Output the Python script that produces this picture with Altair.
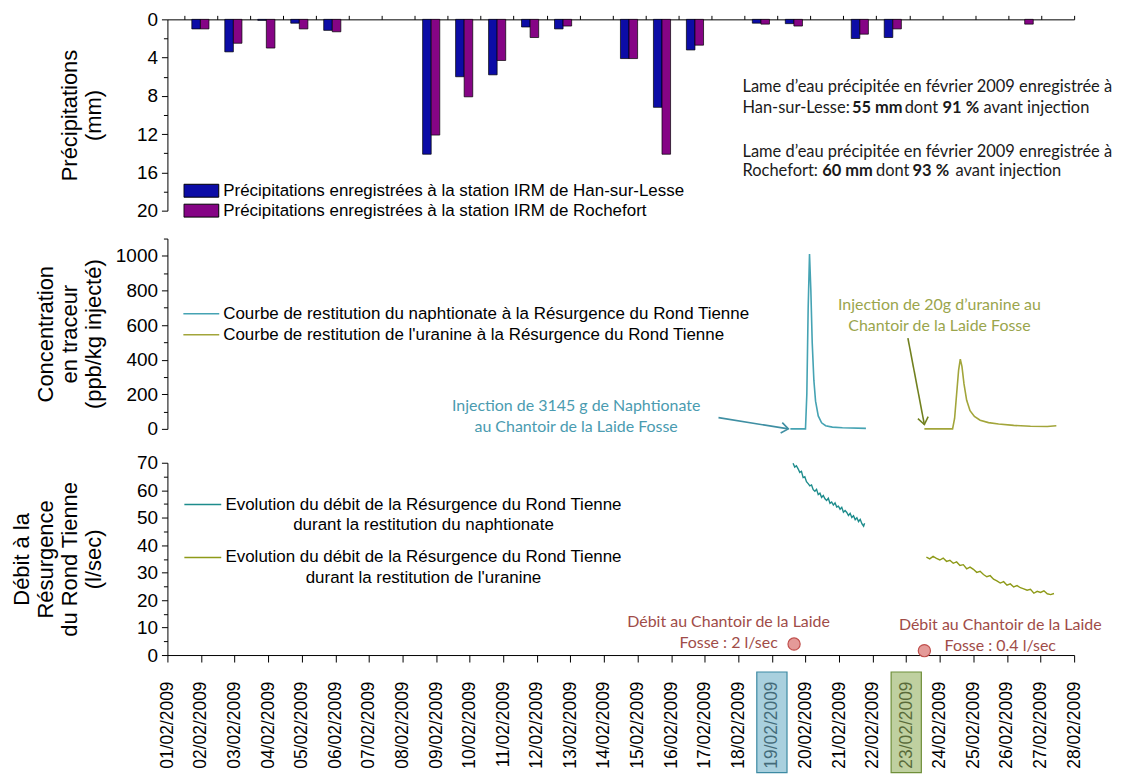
import altair as alt
import pandas as pd

# ---------------- data ----------------
days = list(range(1, 29))
tick_labels = ["01/02/2009", "02/02/2009", "03/02/2009", "04/02/2009", "05/02/2009",
               "06/02/2009", "07/02/2009", "08/02/2009", "09/02/2009", "10/02/2009",
               "11/02/2009", "12/02/2009", "13/02/2009", "14/02/2009", "15/02/2009",
               "16/02/2009", "17/02/2009", "18/02/2009", "19/02/2009", "20/02/2009",
               "21/02/2009", "22/02/2009", "23/02/2009", "24/02/2009", "25/02/2009",
               "26/02/2009", "27/02/2009", "28/02/2009"]

precip_han = [0, 1.0, 3.4, 0.1, 0.4, 1.15, 0, 0, 14.1, 6.0, 5.8, 0.8, 1.0, 0,
              4.1, 9.2, 3.2, 0, 0.4, 0.45, 0, 2.0, 1.9, 0, 0, 0, 0, 0]
precip_roch = [0, 1.0, 2.5, 3.0, 1.0, 1.3, 0, 0, 12.1, 8.1, 4.3, 1.9, 0.7, 0,
               4.1, 14.1, 2.7, 0, 0.5, 0.7, 0, 1.55, 1.0, 0, 0, 0, 0.5, 0]

naph_conc_day = [19.55, 20.00, 20.04, 20.08, 20.12, 20.16, 20.20, 20.25, 20.30, 20.38,
                 20.48, 20.60, 20.80, 21.10, 21.80]
naph_conc_val = [0, 0, 200, 700, 1010, 800, 500, 280, 160, 75, 35, 18, 10, 6, 3]

ura_conc_day = [23.54, 24.38, 24.44, 24.50, 24.56, 24.61, 24.66, 24.72, 24.80, 24.90,
                25.03, 25.20, 25.45, 25.75, 26.20, 26.70, 27.20, 27.47]
ura_conc_val = [0, 0, 60, 200, 340, 403, 360, 260, 165, 105, 72, 50, 36, 28, 20, 15, 14, 18]

naph_q_day = [19.63, 19.68, 19.73, 19.78, 19.83, 19.88, 19.93, 19.98, 20.03, 20.08, 20.13,
              20.18, 20.23, 20.28, 20.33, 20.38, 20.43, 20.48, 20.53, 20.58, 20.63, 20.68,
              20.73, 20.78, 20.83, 20.88, 20.93, 20.98, 21.03, 21.08, 21.13, 21.18, 21.23,
              21.28, 21.33, 21.38, 21.43, 21.48, 21.53, 21.58, 21.63, 21.68, 21.73, 21.76]
naph_q_val = [69.8, 68.4, 68.9, 67.8, 66.5, 66.9, 64.6, 64.9, 63.1, 62.4, 61.6,
              61.9, 60.2, 59.6, 60.3, 58.4, 58.9, 57.4, 58.1, 56.9, 56.3, 57.1,
              55.2, 55.7, 54.6, 55.4, 53.9, 54.2, 53.1, 53.8, 52.0, 52.6, 51.9,
              50.8, 51.6, 50.1, 50.7, 49.3, 50.0, 48.6, 49.4, 47.8, 46.9, 48.0]

ura_q_day = [23.60, 23.70, 23.80, 23.90, 24.00, 24.10, 24.20, 24.30, 24.40, 24.50,
             24.60, 24.70, 24.80, 24.90, 25.00, 25.10, 25.20, 25.30, 25.40, 25.50,
             25.60, 25.70, 25.80, 25.90, 26.00, 26.10, 26.20, 26.30, 26.40, 26.50,
             26.60, 26.70, 26.80, 26.90, 27.00, 27.10, 27.20, 27.30, 27.40]
ura_q_val = [35.6, 35.0, 35.9, 35.2, 34.6, 35.3, 34.1, 34.5, 33.4, 33.9,
             32.6, 32.9, 31.4, 32.0, 31.2, 30.1, 30.5, 29.3, 28.5, 28.9,
             27.6, 27.0, 26.2, 26.7, 25.4, 25.9, 24.8, 25.3, 24.5, 24.1,
             23.6, 23.9, 22.5, 23.2, 22.8, 23.4, 22.3, 22.0, 22.4]

swallow_day = [19.66, 23.54]
swallow_q = [4.0, 1.6]
injection_days = [19, 23]

han_label = "Précipitations enregistrées à la station IRM de Han-sur-Lesse"
roch_label = "Précipitations enregistrées à la station IRM de Rochefort"
naph_c_label = "Courbe de restitution du naphtionate à la Résurgence du Rond Tienne"
ura_c_label = "Courbe de restitution de l'uranine à la Résurgence du Rond Tienne"
naph_q_label = "Evolution du débit de la Résurgence du Rond Tienne|durant la restitution du naphtionate"
ura_q_label = "Evolution du débit de la Résurgence du Rond Tienne|durant la restitution de l'uranine"

# top-right notes (text, day, mm, weight)
note_text = ["Lame d’eau précipitée en février 2009 enregistrée à",
             "Han-sur-Lesse:", "55 mm", "dont", "91 %", "avant injection",
             "Lame d’eau précipitée en février 2009 enregistrée à",
             "Rochefort:", "60 mm", "dont", "93 %", "avant injection"]
note_day = [18.44, 18.44, 21.76, 23.36, 24.51, 25.75,
            18.44, 18.44, 20.86, 22.49, 23.60, 24.90]
note_mm = [7.1, 9.3, 9.3, 9.3, 9.3, 9.3, 13.82, 15.83, 15.83, 15.83, 15.83, 15.83]
note_bold = [False, False, True, False, True, False, False, False, True, False, True, False]

# ---------------- style ----------------
FONT = "Liberation Sans"
NFONT = "Lato"
BLUE, PURPLE = "#0c0ca6", "#850485"
TEAL_C, OLIVE_C = "#45a3b3", "#a2a53a"
TEAL_Q, OLIVE_Q = "#1d8c8c", "#8e9a18"
TEAL_T, OLIVE_T, RED_T = "#4a9bb0", "#9aa54c", "#a04c48"
W = 910
H1, H2, H3 = 192, 191, 193
LH = 24


def yaxis(values, title, height):
    n = len(title)
    return alt.Axis(values=values, title=title, titleFont=FONT, titleFontSize=22,
                    titleFontWeight="normal", titleLineHeight=LH,
                    titleX=-62 - (n - 1) * LH, titleY=height / 2, titleAngle=270,
                    titleAlign="center", titleBaseline="bottom", labelFont=FONT,
                    labelFontSize=19, labelPadding=4, tickSize=6, tickColor="black",
                    domainColor="black", labelColor="black", titleColor="black",
                    grid=False, format="d")


def minor_axis(values):
    return alt.Axis(orient="left", values=values, labels=False, tickSize=4, domain=False,
                    tickColor="black", title=None, grid=False)


# ================= panel 1 : precipitation =================
prec_df = pd.DataFrame({"day": days + days, "mm": precip_han + precip_roch,
                        "station": [han_label] * len(days) + [roch_label] * len(days)})
xs1 = alt.Scale(domain=[1, 28.5], nice=False, zero=False)
xax1 = alt.Axis(orient="top", values=[d + 0.5 for d in days], labels=False, tickSize=4,
                title=None, grid=False, domainColor="black", tickColor="black")
ys1 = alt.Scale(domain=[0, 20], reverse=True, nice=False)
yax1 = yaxis([0, 4, 8, 12, 16, 20], ["Précipitations", "(mm)"], H1)

bars = alt.Chart(prec_df).transform_filter("datum.mm > 0").transform_calculate(
    lo=f"datum.day - (datum.station == '{han_label}' ? 0.26 : 0)",
    hi=f"datum.day + (datum.station == '{han_label}' ? 0 : 0.26)",
).mark_bar(stroke="black", strokeWidth=0.7).encode(
    x=alt.X("lo:Q", scale=xs1, axis=xax1),
    x2="hi:Q",
    y=alt.Y("mm:Q", scale=ys1, axis=yax1),
    y2=alt.datum(0),
    color=alt.Color("station:N", scale=alt.Scale(domain=[han_label, roch_label],
                                                 range=[BLUE, PURPLE]),
                    legend=alt.Legend(title=None, orient="none", legendX=16, legendY=162,
                                      symbolType="M-1,-0.37H1V0.37H-1Z", symbolSize=1225,
                                      symbolStrokeColor="black", symbolStrokeWidth=1,
                                      symbolOpacity=1, labelFont=FONT, labelFontSize=17,
                                      labelColor="black", labelLimit=900, clipHeight=20,
                                      rowPadding=0, labelOffset=4, padding=0)),
)
minor1 = alt.Chart(pd.DataFrame({"v": [2, 6, 10, 14, 18]})).mark_point(opacity=0).encode(
    y=alt.Y("v:Q", scale=ys1, axis=minor_axis([2, 6, 10, 14, 18])))

notes_df = pd.DataFrame({"text": note_text, "day": note_day, "mm": note_mm, "bold": note_bold})
notes_n = alt.Chart(notes_df).transform_filter("!datum.bold").mark_text(
    align="left", baseline="middle", font=NFONT, fontSize=16.5, color="#1a1a1a").encode(
    x=alt.X("day:Q", scale=xs1, axis=xax1), y=alt.Y("mm:Q", scale=ys1, axis=yax1), text="text:N")
notes_b = alt.Chart(notes_df).transform_filter("datum.bold").mark_text(
    align="left", baseline="middle", font=NFONT, fontSize=16.5, fontWeight="bold",
    color="#1a1a1a").encode(
    x=alt.X("day:Q", scale=xs1, axis=xax1), y=alt.Y("mm:Q", scale=ys1, axis=yax1), text="text:N")

panel1 = alt.layer(alt.layer(bars, notes_n, notes_b), minor1).resolve_axis(
    y="independent").properties(width=W, height=H1)

# ================= panel 2 : concentration =================
xs = alt.Scale(domain=[1, 28], nice=False, zero=False)
ys2 = alt.Scale(domain=[0, 1100], nice=False)
yax2 = yaxis([0, 200, 400, 600, 800, 1000], ["Concentration", "en traceur", "(ppb/kg injecté)"], H2)

conc_df = pd.DataFrame({
    "day": naph_conc_day + ura_conc_day,
    "c": naph_conc_val + ura_conc_val,
    "serie": [naph_c_label] * len(naph_conc_day) + [ura_c_label] * len(ura_conc_day)})
conc = alt.Chart(conc_df).mark_line(strokeWidth=1.6).encode(
    x=alt.X("day:Q", scale=xs, axis=None),
    y=alt.Y("c:Q", scale=ys2, axis=yax2),
    color=alt.Color("serie:N", scale=alt.Scale(domain=[naph_c_label, ura_c_label],
                                               range=[TEAL_C, OLIVE_C]),
                    legend=alt.Legend(title=None, orient="none", legendX=15, legendY=65,
                                      symbolType="stroke", symbolSize=1296,
                                      symbolStrokeWidth=1.5, labelFont=FONT,
                                      labelFontSize=17, labelColor="black", labelLimit=900,
                                      clipHeight=21, rowPadding=0, labelOffset=3, padding=0)),
    detail="serie:N",
)
minor2 = alt.Chart(pd.DataFrame({"v": [100, 300, 500, 700, 900, 1100]})).mark_point(opacity=0).encode(
    y=alt.Y("v:Q", scale=ys2, axis=minor_axis([100, 300, 500, 700, 900, 1100])))

ann2_df = pd.DataFrame({
    "text": ["Injection de 3145 g de Naphtionate\nau Chantoir de la Laide Fosse",
             "Injection de 20g d’uranine au\nChantoir de la Laide Fosse"],
    "day": [13.17, 23.99], "c": [134, 716], "col": [TEAL_T, OLIVE_T]})
ann2 = alt.Chart(ann2_df).mark_text(align="center", baseline="middle", font=NFONT,
                                    fontSize=16, lineBreak="\n", lineHeight=21).encode(
    x=alt.X("day:Q", scale=xs, axis=None), y=alt.Y("c:Q", scale=ys2, axis=yax2),
    text="text:N", color=alt.Color("col:N", scale=None))

arrow_df = pd.DataFrame({"day": [17.41, 23.05], "c": [65, 524],
                         "day2": [19.49, 23.54], "c2": [0, 25]})


def arrow(i, color, ang):
    d = arrow_df.iloc[[i]]
    shaft = alt.Chart(d).mark_rule(color=color, strokeWidth=1.6).encode(
        x=alt.X("day:Q", scale=xs, axis=None), y=alt.Y("c:Q", scale=ys2, axis=yax2),
        x2="day2:Q", y2="c2:Q")
    head = alt.Chart(d).mark_point(shape="M-1,-0.75L0,0L-1,0.75", filled=False, size=196,
                                   angle=ang, color=color, strokeWidth=1.6, opacity=1).encode(
        x=alt.X("day2:Q", scale=xs, axis=None), y=alt.Y("c2:Q", scale=ys2, axis=yax2))
    return [shaft, head]


panel2 = alt.layer(alt.layer(conc, ann2, *arrow(0, "#3f8fa3", 9), *arrow(1, "#71801f", 79)),
                   minor2).resolve_axis(y="independent").properties(width=W, height=H2)

# ================= panel 3 : discharge =================
ys3 = alt.Scale(domain=[0, 70], nice=False)
yax3 = yaxis([0, 10, 20, 30, 40, 50, 60, 70],
             ["Débit à la", "Résurgence", "du Rond Tienne", "(l/sec)"], H3)
label_array = "[" + ",".join(f"'{t}'" for t in tick_labels) + "]"
xax3 = alt.Axis(values=days, labelExpr=f"{label_array}[datum.value - 1]", labelAngle=270,
                labelAlign="right", labelBaseline="middle", labelFont=FONT, labelFontSize=17.5,
                labelPadding=19, labelColor="black", tickSize=7, tickColor="black",
                domainColor="black", title=None, grid=False, labelOverlap=False)

q_df = pd.DataFrame({
    "day": naph_q_day + ura_q_day,
    "q": naph_q_val + ura_q_val,
    "serie": [naph_q_label] * len(naph_q_day) + [ura_q_label] * len(ura_q_day)})
qlines = alt.Chart(q_df).mark_line(strokeWidth=1.4).encode(
    x=alt.X("day:Q", scale=xs, axis=xax3),
    y=alt.Y("q:Q", scale=ys3, axis=yax3),
    color=alt.Color("serie:N", scale=alt.Scale(domain=[naph_q_label, ura_q_label],
                                               range=[TEAL_Q, OLIVE_Q]),
                    legend=alt.Legend(title=None, orient="none", legendX=16, legendY=18,
                                      symbolType="stroke", symbolSize=1369,
                                      symbolStrokeWidth=1.5, labelFont=FONT,
                                      labelFontSize=17, labelColor="black", labelLimit=900,
                                      labelExpr="split(datum.label, '|')",
                                      labelAlign="center", labelOffset=202,
                                      labelBaseline="middle", clipHeight=48, rowPadding=0,
                                      padding=0)),
    detail="serie:N",
)
minor3 = alt.Chart(pd.DataFrame({"v": [5, 15, 25, 35, 45, 55, 65]})).mark_point(opacity=0).encode(
    y=alt.Y("v:Q", scale=ys3, axis=minor_axis([5, 15, 25, 35, 45, 55, 65])))

sw_df = pd.DataFrame({"day": swallow_day, "q": swallow_q})
swallow = alt.Chart(sw_df).mark_point(shape="circle", filled=True, fill="#e49a98",
                                      stroke="#c0504d", strokeWidth=1.2, size=150,
                                      opacity=1).encode(
    x=alt.X("day:Q", scale=xs, axis=xax3), y=alt.Y("q:Q", scale=ys3, axis=yax3))

ann3_df = pd.DataFrame({
    "text": ["Débit au Chantoir de la Laide\nFosse : 2 l/sec",
             "Débit au Chantoir de la Laide\nFosse : 0.4 l/sec"],
    "day": [17.71, 25.8], "q": [12.0, 11.0]})
ann3 = alt.Chart(ann3_df).mark_text(align="center", baseline="middle", font=NFONT,
                                    fontSize=16, lineBreak="\n", lineHeight=21,
                                    color=RED_T).encode(
    x=alt.X("day:Q", scale=xs, axis=xax3), y=alt.Y("q:Q", scale=ys3, axis=yax3), text="text:N")

hl_df = pd.DataFrame({"day": injection_days, "fillc": ["#6fb0c8", "#94b060"],
                      "strokec": ["#3d8aa3", "#6f8f3a"]})
hl = alt.Chart(hl_df).transform_calculate(lo="datum.day - 0.45", hi="datum.day + 0.45").mark_rect(
    fillOpacity=0.6, strokeWidth=1.2).encode(
    x=alt.X("lo:Q", scale=xs, axis=xax3), x2="hi:Q",
    y=alt.value(H3 + 17), y2=alt.value(H3 + 118),
    fill=alt.Fill("fillc:N", scale=None), stroke=alt.Stroke("strokec:N", scale=None))

panel3 = alt.layer(alt.layer(qlines, swallow, ann3, hl), minor3).resolve_axis(
    y="independent").properties(width=W, height=H3)

chart = alt.vconcat(panel1, panel2, panel3, spacing=15).resolve_scale(
    color="independent", x="independent", y="independent").resolve_legend(
    color="independent").configure(
    style={"guide-label": {"lineHeight": 21}}).configure_view(stroke=None).properties(
    padding={"left": 3, "top": 1, "right": 0, "bottom": 0})

chart.save("out.html", embed_options={"renderer": "svg", "actions": False})
